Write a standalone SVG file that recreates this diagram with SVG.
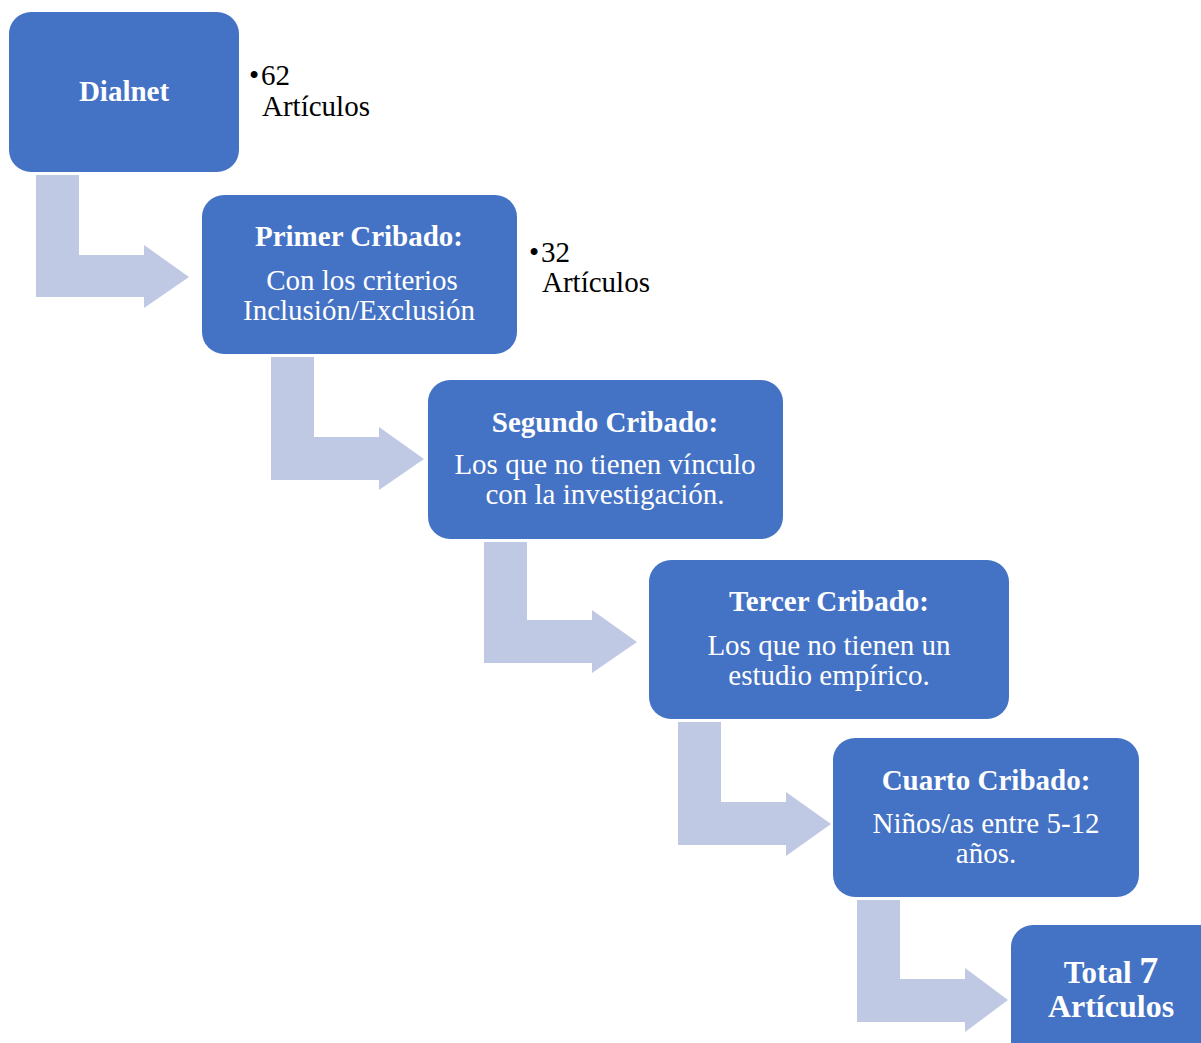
<svg xmlns="http://www.w3.org/2000/svg" width="1201" height="1043" viewBox="0 0 1201 1043">
<style>
.box{fill:#4472C4;}
.arr{fill:#BFC9E3;}
.t{font-family:"Liberation Serif","Times New Roman",serif;fill:#fff;text-anchor:middle;}
.b{font-weight:bold;font-size:29px;}
.n{font-size:29px;}
.side{font-family:"Liberation Serif","Times New Roman",serif;fill:#000;font-size:29px;}
</style>
<rect width="1201" height="1043" fill="#fff"/>
<g id="connectors">
<path class="arr" d="M36,175 H79 V255 H144 V245 L189,277 L144,308 V297 H36 Z"/>
<path class="arr" d="M271,357 H314 V437 H379 V427 L424,459 L379,490 V480 H271 Z"/>
<path class="arr" d="M484,542 H527 V620 H592 V610 L637,642 L592,673 V663 H484 Z"/>
<path class="arr" d="M678,722 H721 V802 H786 V792 L831,824 L786,856 V845 H678 Z"/>
<path class="arr" d="M857,900 H900 V979 H965 V968 L1008,1000 L965,1032 V1022 H857 Z"/>
</g>
<g id="dialnet">
<rect class="box" x="9" y="12" width="230" height="160" rx="22"/>
<text class="t b" x="124" y="101">Dialnet</text>
</g>
<g id="dialnet-count">
<text class="side" x="249" y="85">•<tspan x="261">62</tspan></text>
<text class="side" x="262" y="116">Artículos</text>
</g>
<g id="primer">
<rect class="box" x="202" y="195" width="315" height="159" rx="22"/>
<text class="t b" x="359" y="246">Primer Cribado:</text>
<text class="t n" x="362" y="290">Con los criterios</text>
<text class="t n" x="359" y="320">Inclusión/Exclusión</text>
</g>
<g id="primer-count">
<text class="side" x="529" y="262">•<tspan x="541">32</tspan></text>
<text class="side" x="542" y="292">Artículos</text>
</g>
<g id="segundo">
<rect class="box" x="428" y="380" width="355" height="159" rx="22"/>
<text class="t b" x="605" y="432">Segundo Cribado:</text>
<text class="t n" x="605" y="474">Los que no tienen vínculo</text>
<text class="t n" x="605" y="504">con la investigación.</text>
</g>
<g id="tercer">
<rect class="box" x="649" y="560" width="360" height="159" rx="22"/>
<text class="t b" x="829" y="611">Tercer Cribado:</text>
<text class="t n" x="829" y="655">Los que no tienen un</text>
<text class="t n" x="829" y="685">estudio empírico.</text>
</g>
<g id="cuarto">
<rect class="box" x="833" y="738" width="306" height="159" rx="22"/>
<text class="t b" x="986" y="790">Cuarto Cribado:</text>
<text class="t n" x="986" y="833">Niños/as entre 5-12</text>
<text class="t n" x="986" y="863">años.</text>
</g>
<g id="total">
<rect class="box" x="1011" y="925" width="215" height="160" rx="22"/>
<text class="t" x="1111" y="983" font-weight="bold" font-size="31">Total <tspan font-size="38">7</tspan></text>
<text class="t" x="1111" y="1017" font-weight="bold" font-size="32">Artículos</text>
</g>
</svg>
